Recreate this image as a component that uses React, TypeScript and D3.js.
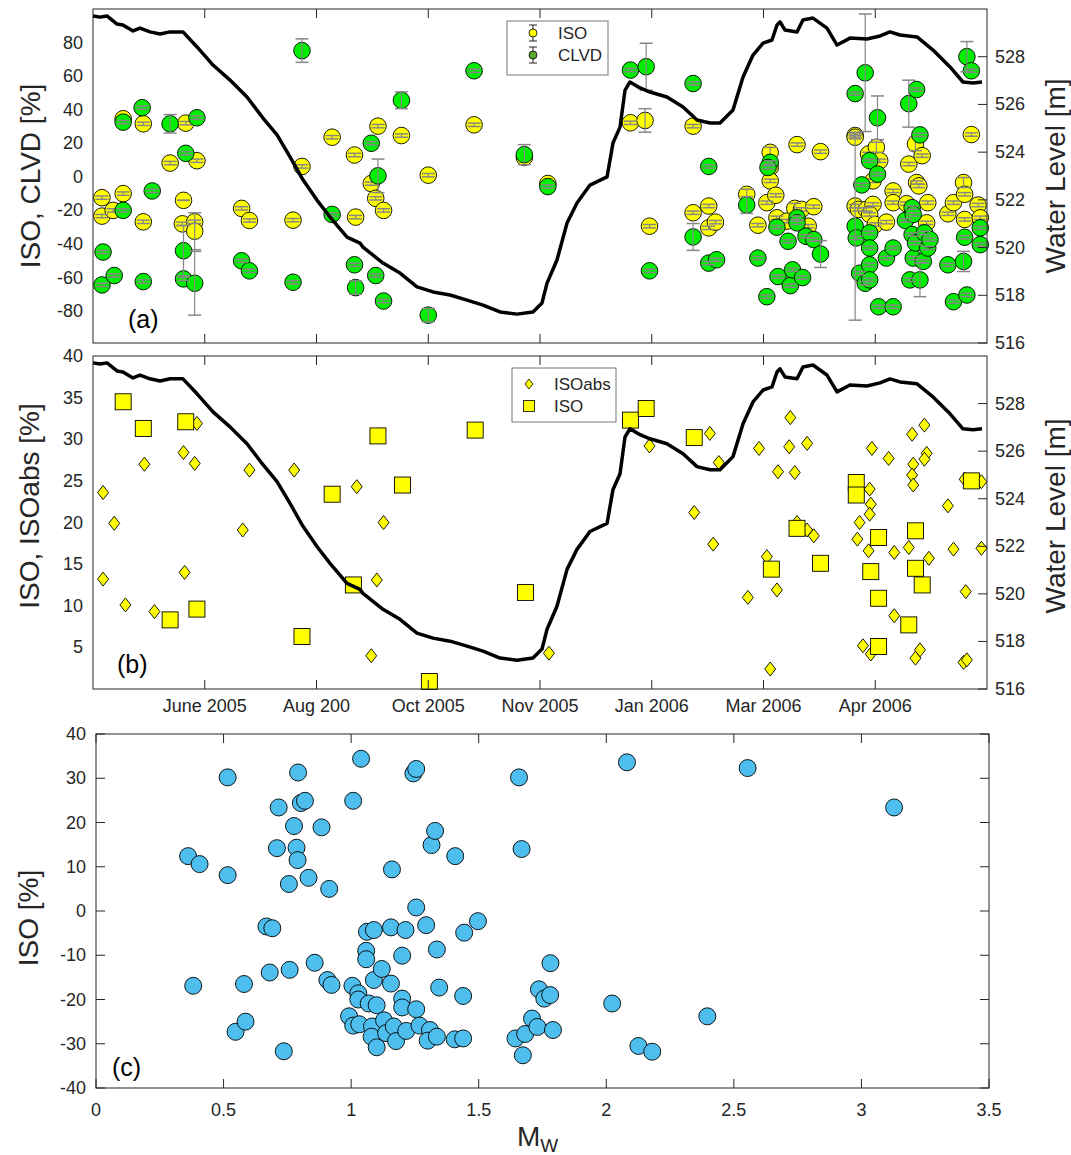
import * as d3 from "d3";

// x axis of (a) and (b) is an event-time index; ticks sit at whole numbers
const xTickPos = [1, 2, 3, 4, 5, 6, 7];
const xTickLabels = ["June 2005", "Aug 200", "Oct 2005", "Nov 2005", "Jan 2006", "Mar 2006", "Apr 2006"];

// reservoir water level [index, m]
const waterLevel: [number, number][] = [
  [0, 529.71], [0.063, 529.66], [0.125, 529.71], [0.215, 529.37], [0.268, 529.33], [0.358, 529.08],
  [0.421, 529.2], [0.51, 529.04], [0.6, 528.95], [0.689, 529.04], [0.805, 529.04], [0.931, 528.41],
  [1.074, 527.65], [1.226, 527.02], [1.378, 526.31], [1.521, 525.43], [1.647, 524.72], [1.763, 523.8],
  [1.879, 522.84], [2.004, 521.99], [2.121, 521.28], [2.273, 520.44], [2.389, 520.19], [2.416, 520.02],
  [2.595, 519.35], [2.747, 518.93], [2.899, 518.35], [3.043, 518.14], [3.195, 518.01], [3.347, 517.8],
  [3.49, 517.59], [3.642, 517.3], [3.794, 517.21], [3.937, 517.3], [4.018, 517.68], [4.063, 518.51],
  [4.152, 519.48], [4.242, 521.03], [4.331, 521.87], [4.447, 522.62], [4.6, 522.96], [4.653, 524.38],
  [4.716, 525.05], [4.761, 526.6], [4.805, 526.94], [4.895, 526.69], [4.984, 526.52], [5.136, 526.31],
  [5.28, 525.89], [5.405, 525.35], [5.521, 525.22], [5.611, 525.22], [5.727, 525.77], [5.817, 527.15],
  [5.906, 528.07], [5.996, 528.57], [6.076, 528.7], [6.121, 529.33], [6.148, 529.46], [6.192, 529.12],
  [6.3, 529.04], [6.353, 529.54], [6.443, 529.62], [6.568, 529.2], [6.658, 528.49], [6.774, 528.78],
  [6.926, 528.74], [7.043, 528.87], [7.132, 529.04], [7.221, 528.91], [7.374, 528.83], [7.517, 528.28],
  [7.669, 527.57], [7.785, 526.94], [7.875, 526.9], [7.955, 526.94],
];

// panel (a): [index, value %, error %]
const isoA: [number, number, number][] = [
  [0.08, -12.4, 1], [0.08, -23.4, 1], [0.18, -20, 1], [0.27, 34.6, 1], [0.27, -10, 1], [0.45, 31.6, 1],
  [0.45, -26.8, 1], [0.69, 8.2, 1], [0.83, 32, 1], [0.81, -14, 0], [0.8, -28, 1], [0.91, -26.8, 1],
  [0.91, -32.4, 11], [0.93, 9.6, 1], [1.33, -18.8, 1], [1.4, -26, 1], [1.79, -25.8, 1], [1.87, 6.2, 1],
  [2.14, 23.6, 1], [2.34, 13, 1], [2.35, -24, 1], [2.49, -4, 1], [2.53, -12.8, 1], [2.55, 30.2, 1],
  [2.6, -20, 1], [2.76, 24.6, 1], [3.0, 1, 1], [3.41, 31, 1], [3.86, 11.6, 1], [4.07, -4, 1],
  [4.81, 32.2, 1], [4.94, 33.6, 7], [4.98, -29.4, 1], [5.37, 30.2, 1], [5.37, -21.4, 1], [5.51, -17.4, 1],
  [5.51, -30.4, 1], [5.57, -27, 1], [5.85, -10.4, 3], [5.95, -28.8, 1], [6.03, -15.4, 1], [6.06, 14.6, 3],
  [6.06, 5.6, 1], [6.06, -2.4, 1], [6.11, -11, 1], [6.12, -24.4, 1], [6.21, -26.4, 1], [6.3, 19.2, 1],
  [6.28, -18.8, 3], [6.34, -19.4, 1], [6.4, -29.4, 1], [6.45, -17.8, 1], [6.51, 15, 1], [6.82, 24.6, 1],
  [6.82, 23.6, 1], [6.82, -17.4, 1], [6.85, -19.4, 1], [6.92, -19.4, 1], [6.94, 13.6, 1], [6.98, -16.4, 1],
  [7.01, 17.6, 3], [7.04, 9.6, 1], [6.98, -2.4, 1], [6.95, -22.4, 1], [7.0, -28.4, 1], [7.1, -27, 1],
  [7.16, -8.4, 1], [7.16, -15.4, 1], [7.28, -16, 1], [7.3, 7.6, 1], [7.36, 19.6, 4], [7.42, 12.6, 1],
  [7.37, -3.4, 1], [7.39, -5.4, 1], [7.46, -27.4, 1], [7.47, -15.4, 1], [7.65, -22, 1], [7.7, -15.4, 1],
  [7.79, -3.4, 3], [7.8, -25.4, 1], [7.8, -10.4, 1], [7.86, 25.2, 1], [7.92, -16.8, 1], [7.94, -24.4, 1],
];

const clvdA: [number, number, number][] = [
  [0.08, -64.4, 1], [0.09, -44.8, 1], [0.19, -58.8, 1], [0.27, 32.6, 1], [0.27, -20, 1], [0.44, 41.2, 1],
  [0.45, -62.4, 1], [0.53, -8.4, 1], [0.69, 31.6, 5.5], [0.83, 14, 1], [0.81, -44, 15], [0.81, -60.8, 1],
  [0.91, -63.4, 19], [0.93, 35.2, 1], [1.33, -50, 1], [1.4, -56, 1], [1.79, -62.8, 1], [1.87, 75.2, 7],
  [2.14, -22.4, 1], [2.34, -52.4, 1], [2.35, -66, 4], [2.49, 20, 1], [2.55, 0.6, 10], [2.53, -58.8, 1],
  [2.6, -74, 1], [2.76, 45.6, 5], [3.0, -82.4, 4], [3.41, 63.2, 1], [3.86, 13.2, 6], [4.07, -5.8, 1],
  [4.81, 63.6, 1], [4.95, 65.6, 14], [4.98, -56, 1], [5.37, 55.6, 1], [5.37, -35.8, 8], [5.51, 6.2, 1],
  [5.51, -51.4, 1], [5.58, -49.4, 1], [5.85, -16.8, 5], [5.95, -48.4, 1], [6.03, -71.4, 1], [6.06, 8.6, 1],
  [6.04, 5.6, 1], [6.12, -30, 1], [6.13, -59.4, 1], [6.22, -38.4, 1], [6.24, -64.8, 1], [6.26, -55.4, 1],
  [6.3, -24.4, 1], [6.3, -27.4, 1], [6.35, -60, 1], [6.38, -35.4, 1], [6.45, -37.4, 1], [6.51, -46, 8],
  [6.82, 49.6, 1], [6.82, -29.4, 56], [6.83, -36.4, 1], [6.86, -57.4, 1], [6.88, -4.8, 1], [6.91, -63.4, 1],
  [6.91, 62, 35], [6.95, -33.4, 1], [6.95, -42.4, 1], [6.95, -52.4, 1], [6.95, -61.4, 1], [6.95, 9.6, 1],
  [7.02, 1.6, 1], [7.02, 35.2, 13], [7.03, -77.4, 1], [7.1, -48.4, 1], [7.16, -42.4, 1], [7.16, -77.4, 1],
  [7.3, 43.6, 14], [7.37, 52, 1], [7.4, 25, 1], [7.27, -26, 1], [7.33, -18.4, 1], [7.34, -22.4, 1],
  [7.33, -34.4, 1], [7.34, -48.4, 1], [7.31, -61.4, 1], [7.4, -61.4, 10], [7.36, -39.4, 1], [7.43, -50.4, 1],
  [7.44, -33.4, 1], [7.47, -42.4, 1], [7.49, -37.4, 1], [7.65, -52.4, 1], [7.7, -74.4, 1], [7.79, -50.4, 6],
  [7.8, -36, 1], [7.82, -70.4, 1], [7.82, 71.6, 9], [7.86, 63.2, 1], [7.94, -30.4, 1], [7.94, -40.4, 1],
];

// panel (b): [index, value %]
const isoAbsB: [number, number][] = [
  [0.09, 23.6], [0.19, 19.9], [0.09, 13.2], [0.29, 10.1], [0.46, 27.0], [0.55, 9.3], [0.81, 28.4],
  [0.82, 14.0], [0.91, 27.1], [0.93, 31.9], [1.34, 19.1], [1.4, 26.3], [1.8, 26.3], [2.36, 24.3],
  [2.6, 20.0], [2.54, 13.1], [2.49, 4.0], [4.08, 4.3], [4.98, 29.2], [5.38, 21.2], [5.52, 30.7],
  [5.6, 27.2], [5.55, 17.4], [5.86, 11.0], [5.96, 28.9], [6.03, 15.9], [6.12, 11.9], [6.06, 2.4],
  [6.13, 26.1], [6.24, 32.6], [6.23, 29.1], [6.28, 26.0], [6.39, 29.5], [6.3, 20.0], [6.39, 19.1],
  [6.45, 18.4], [6.84, 18.0], [6.86, 20.0], [6.89, 5.2], [6.96, 4.2], [6.94, 16.6], [6.95, 24.0],
  [6.96, 22.2], [6.95, 21.0], [6.97, 28.9], [7.12, 27.7], [7.17, 16.4], [7.17, 8.8], [7.3, 17.0],
  [7.33, 30.6], [7.34, 27.0], [7.33, 25.7], [7.34, 24.5], [7.36, 3.7], [7.4, 4.7], [7.44, 31.7],
  [7.46, 28.3], [7.44, 27.6], [7.48, 15.7], [7.65, 22.0], [7.7, 16.8], [7.81, 11.7], [7.79, 3.2],
  [7.82, 3.5], [7.8, 25.2], [7.95, 24.9], [7.95, 16.9],
];

const isoB: [number, number][] = [
  [0.27, 34.5], [0.45, 31.3], [0.69, 8.3], [0.83, 32.1], [0.93, 9.6], [1.87, 6.3], [2.14, 23.4],
  [2.33, 12.5], [2.55, 30.4], [2.77, 24.5], [3.01, 0.9], [3.42, 31.1], [3.87, 11.6], [4.81, 32.3],
  [4.95, 33.7], [5.38, 30.2], [6.07, 14.4], [6.3, 19.3], [6.51, 15.1], [6.83, 24.8], [6.83, 23.3],
  [7.03, 18.2], [6.96, 14.1], [7.03, 10.9], [7.03, 5.1], [7.36, 19.0], [7.36, 14.5], [7.42, 12.5],
  [7.3, 7.7], [7.86, 25.0],
];

// panel (c): [Mw, ISO %]
const mwIso: [number, number][] = [
  [0.361, 12.4], [0.406, 10.6], [0.516, 30.2], [0.516, 8.1], [0.381, -16.9], [0.547, -27.3],
  [0.586, -25.0], [0.58, -16.5], [0.668, -3.5], [0.691, -3.9], [0.681, -13.9], [0.716, 23.4],
  [0.709, 14.2], [0.736, -31.7], [0.756, 6.1], [0.759, -13.3], [0.776, 19.2], [0.786, 14.3],
  [0.79, 11.5], [0.792, 31.3], [0.803, 24.4], [0.819, 24.9], [0.833, 7.5], [0.857, -11.7],
  [0.884, 18.9], [0.907, -15.6], [0.914, 5.0], [0.923, -16.7], [0.992, -23.8], [1.008, 24.9],
  [1.005, -16.9], [1.008, -25.9], [1.028, -18.6], [1.028, -20.0], [1.032, -25.6], [1.039, 34.4],
  [1.059, -9.0], [1.059, -10.9], [1.062, -4.7], [1.089, -4.3], [1.069, -20.9], [1.089, -15.6],
  [1.1, -21.3], [1.082, -26.1], [1.08, -28.4], [1.1, -30.8], [1.12, -13.1], [1.129, -24.7],
  [1.137, -27.6], [1.156, -3.7], [1.156, -16.4], [1.16, 9.4], [1.167, -26.1], [1.176, -29.4],
  [1.2, -10.1], [1.2, -19.8], [1.2, -21.8], [1.213, -4.3], [1.216, -27.1], [1.244, 31.1],
  [1.255, 32.1], [1.255, 0.8], [1.255, -22.2], [1.268, -25.9], [1.294, -3.2], [1.309, -26.9],
  [1.3, -29.3], [1.315, 14.9], [1.329, 18.1], [1.336, -28.4], [1.336, -8.7], [1.345, -17.3],
  [1.408, 12.4], [1.406, -29.0], [1.439, -28.8], [1.439, -19.2], [1.443, -4.9], [1.497, -2.3],
  [1.658, 30.2], [1.668, 14.0], [1.644, -28.8], [1.673, -32.6], [1.682, -27.8], [1.709, -24.3],
  [1.73, -26.2], [1.736, -17.7], [1.757, -19.8], [1.78, -19.0], [1.781, -11.8], [1.791, -26.9],
  [2.081, 33.6], [2.554, 32.3], [3.128, 23.4], [2.023, -20.9], [2.396, -23.8], [2.126, -30.5],
  [2.18, -31.8],
];

const FONT = "'Liberation Sans', Arial, Helvetica, sans-serif";
const AX = "#262626";
const TICK = 9;

const x = d3.scaleLinear().domain([0, 8]).range([93, 987]);
const yA = d3.scaleLinear().domain([-99, 100]).range([343, 9]);
const wlA = d3.scaleLinear().domain([516, 530]).range([343, 9]);
const yB = d3.scaleLinear().domain([0, 40]).range([689, 356]);
const wlB = d3.scaleLinear().domain([516, 530]).range([689, 356]);
const xC = d3.scaleLinear().domain([0, 3.5]).range([96, 989]);
const yC = d3.scaleLinear().domain([-40, 40]).range([1088, 734]);

const wlTicks = d3.range(516, 529, 2);

function Frame({ l, r, t, b }: { l: number; r: number; t: number; b: number }) {
  return <rect x={l} y={t} width={r - l} height={b - t} fill="none" stroke={AX} strokeWidth={1} />;
}

function TimeTicks({ t, b, labels }: { t: number; b: number; labels: boolean }) {
  return (
    <g>
      {xTickPos.map((p, i) => (
        <g key={i}>
          <line x1={x(p)} x2={x(p)} y1={t} y2={t + TICK} stroke={AX} />
          <line x1={x(p)} x2={x(p)} y1={b} y2={b - TICK} stroke={AX} />
          {labels && (
            <text x={x(p)} y={b + 17} textAnchor="middle" dominantBaseline="central" fontSize={18} fill={AX}>
              {xTickLabels[i]}
            </text>
          )}
        </g>
      ))}
    </g>
  );
}

function RightAxis({ wl, r }: { wl: d3.ScaleLinear<number, number>; r: number }) {
  return (
    <g>
      {wlTicks.map((v) => (
        <g key={v}>
          <line x1={r} x2={r - TICK} y1={wl(v)} y2={wl(v)} stroke={AX} />
          <text x={r + 8} y={wl(v)} dominantBaseline="central" fontSize={18} fill={AX}>
            {v}
          </text>
        </g>
      ))}
    </g>
  );
}

function LeftLabels({ ticks, y, l }: { ticks: number[]; y: d3.ScaleLinear<number, number>; l: number }) {
  return (
    <g>
      {ticks.map((v) => (
        <text key={v} x={l - 10} y={y(v)} textAnchor="end" dominantBaseline="central" fontSize={18} fill={AX}>
          {v}
        </text>
      ))}
    </g>
  );
}

function ErrDots({ data, fill }: { data: [number, number, number][]; fill: string }) {
  return (
    <g>
      {data.map((d, i) => (
        <circle key={i} cx={x(d[0])} cy={yA(d[1])} r={8.3} fill={fill} stroke="#000" strokeWidth={0.9} />
      ))}
      {data.map((d, i) => {
        const cx = x(d[0]);
        const y1 = yA(d[1] + d[2]);
        const y2 = yA(d[1] - d[2]);
        return (
          <g key={i} stroke="#878787" strokeWidth={1.5}>
            <line x1={cx} x2={cx} y1={y1} y2={y2} strokeWidth={1.2} />
            <line x1={cx - 6.5} x2={cx + 6.5} y1={y1} y2={y1} />
            <line x1={cx - 6.5} x2={cx + 6.5} y1={y2} y2={y2} />
          </g>
        );
      })}
    </g>
  );
}

function vLabel(text: string, cx: number, cy: number) {
  return (
    <text
      transform={`translate(${cx},${cy}) rotate(-90)`}
      textAnchor="middle"
      dominantBaseline="central"
      fontSize={28}
      fill={AX}
    >
      {text}
    </text>
  );
}

export default function App() {
  const lineA = d3.line<[number, number]>().x((d) => x(d[0])).y((d) => wlA(d[1]));
  const lineB = d3.line<[number, number]>().x((d) => x(d[0])).y((d) => wlB(d[1]));
  const diamond = (cx: number, cy: number, w: number, h: number) =>
    `M${cx},${cy - h}L${cx + w},${cy}L${cx},${cy + h}L${cx - w},${cy}Z`;

  return (
    <svg
      width={1071}
      height={1155}
      style={{ position: "absolute", left: 0, top: 0, background: "#fff" }}
      fontFamily={FONT}
    >
      {/* ---------- (a) ---------- */}
      <ErrDots data={isoA} fill="#ffff00" />
      <ErrDots data={clvdA} fill="#00ee00" />
      <path d={lineA(waterLevel) ?? ""} fill="none" stroke="#000" strokeWidth={3.5} strokeLinejoin="round" />
      <Frame l={93} r={987} t={9} b={343} />
      <TimeTicks t={9} b={343} labels={false} />
      <RightAxis wl={wlA} r={987} />
      <LeftLabels ticks={d3.range(-80, 81, 20)} y={yA} l={93} />
      {vLabel("ISO, CLVD [%]", 30, 176)}
      {vLabel("Water Level [m]", 1055, 176)}
      <text x={128} y={328} fontSize={25} fill="#000">(a)</text>
      <g>
        <rect x={507} y={21} width={101} height={54} fill="#fff" stroke="#777" strokeWidth={1} />
        {[
          { y: 33, fill: "#ffff00", label: "ISO" },
          { y: 55, fill: "#5aa832", label: "CLVD" },
        ].map((e) => (
          <g key={e.label}>
            <g stroke="#222" strokeWidth={1}>
              <line x1={533} x2={533} y1={e.y - 8} y2={e.y + 8} />
              <line x1={529} x2={537} y1={e.y - 8} y2={e.y - 8} />
              <line x1={529} x2={537} y1={e.y + 8} y2={e.y + 8} />
            </g>
            <circle cx={533} cy={e.y} r={4} fill={e.fill} stroke="#000" strokeWidth={0.8} />
            <text x={558} y={e.y} dominantBaseline="central" fontSize={17} fill={AX}>
              {e.label}
            </text>
          </g>
        ))}
      </g>

      {/* ---------- (b) ---------- */}
      {isoAbsB.map((d, i) => (
        <path key={i} d={diamond(x(d[0]), yB(d[1]), 5.5, 7)} fill="#ffff00" stroke="#000" strokeWidth={0.9} />
      ))}
      {isoB.map((d, i) => (
        <rect key={i} x={x(d[0]) - 8} y={yB(d[1]) - 8} width={16} height={16} fill="#ffff00" stroke="#000" strokeWidth={0.9} />
      ))}
      <path d={lineB(waterLevel) ?? ""} fill="none" stroke="#000" strokeWidth={3.5} strokeLinejoin="round" />
      <Frame l={93} r={987} t={356} b={689} />
      <TimeTicks t={356} b={689} labels={true} />
      <RightAxis wl={wlB} r={987} />
      <LeftLabels ticks={d3.range(5, 41, 5)} y={yB} l={93} />
      {vLabel("ISO, ISOabs [%]", 29, 506)}
      {vLabel("Water Level [m]", 1055, 516)}
      <text x={117} y={673} fontSize={25} fill="#000">(b)</text>
      <g>
        <rect x={512} y={368} width={104} height={54} fill="#fff" stroke="#777" strokeWidth={1} />
        <path d={diamond(529, 384, 4, 5)} fill="#ffff00" stroke="#000" strokeWidth={0.8} />
        <text x={554} y={384} dominantBaseline="central" fontSize={17} fill={AX}>ISOabs</text>
        <rect x={523.5} y={400.5} width={11} height={11} fill="#ffff00" stroke="#000" strokeWidth={0.8} />
        <text x={554} y={406} dominantBaseline="central" fontSize={17} fill={AX}>ISO</text>
      </g>

      {/* ---------- (c) ---------- */}
      {mwIso.map((d, i) => (
        <circle key={i} cx={xC(d[0])} cy={yC(d[1])} r={8.5} fill="#4dbeee" stroke="#000" strokeWidth={0.9} />
      ))}
      <Frame l={96} r={989} t={734} b={1088} />
      {xC.ticks(7).map((v) => (
        <g key={v}>
          <line x1={xC(v)} x2={xC(v)} y1={1088} y2={1088 - TICK} stroke={AX} />
          <line x1={xC(v)} x2={xC(v)} y1={734} y2={734 + TICK} stroke={AX} />
          <text x={xC(v)} y={1110} textAnchor="middle" dominantBaseline="central" fontSize={18} fill={AX}>
            {v}
          </text>
        </g>
      ))}
      {d3.range(-40, 41, 10).map((v) => (
        <g key={v}>
          <line x1={96} x2={96 + TICK} y1={yC(v)} y2={yC(v)} stroke={AX} />
          <line x1={989} x2={989 - TICK} y1={yC(v)} y2={yC(v)} stroke={AX} />
        </g>
      ))}
      <LeftLabels ticks={d3.range(-40, 41, 10)} y={yC} l={96} />
      {vLabel("ISO [%]", 28, 918)}
      <text x={517} y={1146} fontSize={28} fill={AX}>
        M<tspan fontSize={19} dy={6}>W</tspan>
      </text>
      <text x={112} y={1076} fontSize={25} fill="#000">(c)</text>
    </svg>
  );
}
